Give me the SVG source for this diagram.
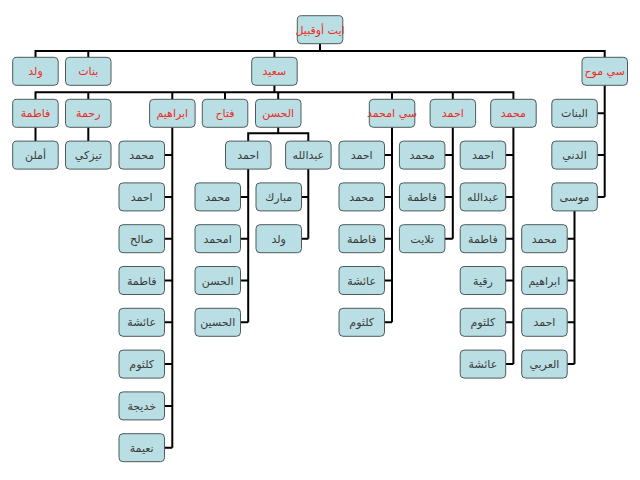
<svg xmlns="http://www.w3.org/2000/svg" width="640" height="480" viewBox="0 0 640 480">
<style>
rect{fill:#b9dfe4;stroke:#4d5a5c;stroke-width:1}
text{font-family:"DejaVu Sans","Liberation Sans",sans-serif;font-size:11px;text-anchor:middle}
.r{fill:#ec2a1c}
.k{fill:#3a3a3a}
#connectors path{fill:none;stroke:#000;stroke-width:2}
</style>
<rect x="0" y="0" width="640" height="480" style="fill:#fff;stroke:none"/>
<g id="connectors">
<path d="M35.5,57.3 V51 H604.7 V57.3 M88.3,51 V57.3 M274.4,51 V57.3 M320,43.7 V51"/>
<path d="M274.4,85.3 V92.3 M35.5,99.3 V92.3 H513.4 V99.3 M88.3,92.3 V99.3 M172.3,92.3 V99.3 M225,92.3 V99.3 M278.2,92.3 V99.3 M392,92.3 V99.3 M452.8,92.3 V99.3"/>
<path d="M35.5,127.3 V141.1 M88.3,127.3 V141.1"/>
<path d="M172.3,127.3 V447.7 M164.5,155.1 H172.3 M164.5,196.9 H172.3 M164.5,238.7 H172.3 M164.5,280.5 H172.3 M164.5,322.3 H172.3 M164.5,364.1 H172.3 M164.5,405.9 H172.3 M164.5,447.7 H172.3"/>
<path d="M278.2,127.3 V133.3 M248.2,141.1 V133.3 H308.3 V141.1"/>
<path d="M248.2,169.1 V322.3 M240.5,196.9 H248.2 M240.5,238.7 H248.2 M240.5,280.5 H248.2 M240.5,322.3 H248.2"/>
<path d="M308.3,169.1 V238.7 M301.5,196.9 H308.3 M301.5,238.7 H308.3"/>
<path d="M392,127.3 V322.3 M384.5,155.1 H392 M384.5,196.9 H392 M384.5,238.7 H392 M384.5,280.5 H392 M384.5,322.3 H392"/>
<path d="M452.8,127.3 V238.7 M445,155.1 H452.8 M445,196.9 H452.8 M445,238.7 H452.8"/>
<path d="M513.4,127.3 V364.1 M505.7,155.1 H513.4 M505.7,196.9 H513.4 M505.7,238.7 H513.4 M505.7,280.5 H513.4 M505.7,322.3 H513.4 M505.7,364.1 H513.4"/>
<path d="M604.7,85.3 V196.9 M597.3,113.3 H604.7 M597.3,155.1 H604.7 M597.3,196.9 H604.7"/>
<path d="M574.5,210.9 V364.1 M567.2,238.7 H574.5 M567.2,280.5 H574.5 M567.2,322.3 H574.5 M567.2,364.1 H574.5"/>
</g>
<g id="root"><rect x="297.3" y="15.7" width="45.5" height="28" rx="4"/><text class="r" x="320" y="33.7">ايت أوقبيل</text></g>
<g id="n_wald1"><rect x="12.7" y="57.3" width="45.5" height="28" rx="4"/><text class="r" x="35.5" y="75.3">ولد</text></g>
<g id="n_banat"><rect x="65.5" y="57.3" width="45.5" height="28" rx="4"/><text class="r" x="88.3" y="75.3">بنات</text></g>
<g id="n_said"><rect x="251.7" y="57.3" width="45.5" height="28" rx="4"/><text class="r" x="274.4" y="75.3">سعيد</text></g>
<g id="n_simoh"><rect x="582" y="57.3" width="45.5" height="28" rx="4"/><text class="r" x="604.7" y="75.3">سي موح</text></g>
<g id="n_fatima1"><rect x="12.7" y="99.3" width="45.5" height="28" rx="4"/><text class="r" x="35.5" y="117.3">فاطمة</text></g>
<g id="n_rahma"><rect x="65.5" y="99.3" width="45.5" height="28" rx="4"/><text class="r" x="88.3" y="117.3">رحمة</text></g>
<g id="n_ibrahim"><rect x="149.6" y="99.3" width="45.5" height="28" rx="4"/><text class="r" x="172.3" y="117.3">ابراهيم</text></g>
<g id="n_fettah"><rect x="202.3" y="99.3" width="45.5" height="28" rx="4"/><text class="r" x="225" y="117.3">فتاح</text></g>
<g id="n_hasan"><rect x="255.5" y="99.3" width="45.5" height="28" rx="4"/><text class="r" x="278.2" y="117.3">الحسن</text></g>
<g id="n_simhamed"><rect x="369.3" y="99.3" width="45.5" height="28" rx="4"/><text class="r" x="392" y="117.3">سي امحمد</text></g>
<g id="n_ahmed2"><rect x="430.1" y="99.3" width="45.5" height="28" rx="4"/><text class="r" x="452.8" y="117.3">احمد</text></g>
<g id="n_mohamed2"><rect x="490.7" y="99.3" width="45.5" height="28" rx="4"/><text class="r" x="513.4" y="117.3">محمد</text></g>
<g id="n_albanat"><rect x="551.8" y="99.3" width="45.5" height="28" rx="4"/><text class="k" x="574.5" y="117.3">البنات</text></g>
<g id="n_amlan"><rect x="12.7" y="141.1" width="45.5" height="28" rx="4"/><text class="k" x="35.5" y="159.1">أملن</text></g>
<g id="n_tizki"><rect x="65.5" y="141.1" width="45.5" height="28" rx="4"/><text class="k" x="88.3" y="159.1">تيزكي</text></g>
<g id="n_i1"><rect x="119" y="141.1" width="45.5" height="28" rx="4"/><text class="k" x="141.7" y="159.1">محمد</text></g>
<g id="n_i2"><rect x="119" y="182.9" width="45.5" height="28" rx="4"/><text class="k" x="141.7" y="200.9">احمد</text></g>
<g id="n_i3"><rect x="119" y="224.7" width="45.5" height="28" rx="4"/><text class="k" x="141.7" y="242.7">صالح</text></g>
<g id="n_i4"><rect x="119" y="266.5" width="45.5" height="28" rx="4"/><text class="k" x="141.7" y="284.5">فاطمة</text></g>
<g id="n_i5"><rect x="119" y="308.3" width="45.5" height="28" rx="4"/><text class="k" x="141.7" y="326.3">عائشة</text></g>
<g id="n_i6"><rect x="119" y="350.1" width="45.5" height="28" rx="4"/><text class="k" x="141.7" y="368.1">كلثوم</text></g>
<g id="n_i7"><rect x="119" y="391.9" width="45.5" height="28" rx="4"/><text class="k" x="141.7" y="409.9">خديجة</text></g>
<g id="n_i8"><rect x="119" y="433.7" width="45.5" height="28" rx="4"/><text class="k" x="141.7" y="451.7">نعيمة</text></g>
<g id="n_h_ahmed"><rect x="225.5" y="141.1" width="45.5" height="28" rx="4"/><text class="k" x="248.2" y="159.1">احمد</text></g>
<g id="n_h_abdallah"><rect x="285.6" y="141.1" width="45.5" height="28" rx="4"/><text class="k" x="308.3" y="159.1">عبدالله</text></g>
<g id="n_ha1"><rect x="195" y="182.9" width="45.5" height="28" rx="4"/><text class="k" x="217.7" y="200.9">محمد</text></g>
<g id="n_ha2"><rect x="195" y="224.7" width="45.5" height="28" rx="4"/><text class="k" x="217.7" y="242.7">امحمد</text></g>
<g id="n_ha3"><rect x="195" y="266.5" width="45.5" height="28" rx="4"/><text class="k" x="217.7" y="284.5">الحسن</text></g>
<g id="n_ha4"><rect x="195" y="308.3" width="45.5" height="28" rx="4"/><text class="k" x="217.7" y="326.3">الحسين</text></g>
<g id="n_hb1"><rect x="256" y="182.9" width="45.5" height="28" rx="4"/><text class="k" x="278.7" y="200.9">مبارك</text></g>
<g id="n_hb2"><rect x="256" y="224.7" width="45.5" height="28" rx="4"/><text class="k" x="278.7" y="242.7">ولد</text></g>
<g id="n_s1"><rect x="339" y="141.1" width="45.5" height="28" rx="4"/><text class="k" x="361.7" y="159.1">احمد</text></g>
<g id="n_s2"><rect x="339" y="182.9" width="45.5" height="28" rx="4"/><text class="k" x="361.7" y="200.9">محمد</text></g>
<g id="n_s3"><rect x="339" y="224.7" width="45.5" height="28" rx="4"/><text class="k" x="361.7" y="242.7">فاطمة</text></g>
<g id="n_s4"><rect x="339" y="266.5" width="45.5" height="28" rx="4"/><text class="k" x="361.7" y="284.5">عائشة</text></g>
<g id="n_s5"><rect x="339" y="308.3" width="45.5" height="28" rx="4"/><text class="k" x="361.7" y="326.3">كلثوم</text></g>
<g id="n_a1"><rect x="399.4" y="141.1" width="45.5" height="28" rx="4"/><text class="k" x="422.1" y="159.1">محمد</text></g>
<g id="n_a2"><rect x="399.4" y="182.9" width="45.5" height="28" rx="4"/><text class="k" x="422.1" y="200.9">فاطمة</text></g>
<g id="n_a3"><rect x="399.4" y="224.7" width="45.5" height="28" rx="4"/><text class="k" x="422.1" y="242.7">تلايت</text></g>
<g id="n_m1"><rect x="460.2" y="141.1" width="45.5" height="28" rx="4"/><text class="k" x="482.9" y="159.1">احمد</text></g>
<g id="n_m2"><rect x="460.2" y="182.9" width="45.5" height="28" rx="4"/><text class="k" x="482.9" y="200.9">عبدالله</text></g>
<g id="n_m3"><rect x="460.2" y="224.7" width="45.5" height="28" rx="4"/><text class="k" x="482.9" y="242.7">فاطمة</text></g>
<g id="n_m4"><rect x="460.2" y="266.5" width="45.5" height="28" rx="4"/><text class="k" x="482.9" y="284.5">رقية</text></g>
<g id="n_m5"><rect x="460.2" y="308.3" width="45.5" height="28" rx="4"/><text class="k" x="482.9" y="326.3">كلثوم</text></g>
<g id="n_m6"><rect x="460.2" y="350.1" width="45.5" height="28" rx="4"/><text class="k" x="482.9" y="368.1">عائشة</text></g>
<g id="n_dni"><rect x="551.8" y="141.1" width="45.5" height="28" rx="4"/><text class="k" x="574.5" y="159.1">الدني</text></g>
<g id="n_moussa"><rect x="551.8" y="182.9" width="45.5" height="28" rx="4"/><text class="k" x="574.5" y="200.9">موسى</text></g>
<g id="n_mo1"><rect x="521.7" y="224.7" width="45.5" height="28" rx="4"/><text class="k" x="544.4" y="242.7">محمد</text></g>
<g id="n_mo2"><rect x="521.7" y="266.5" width="45.5" height="28" rx="4"/><text class="k" x="544.4" y="284.5">ابراهيم</text></g>
<g id="n_mo3"><rect x="521.7" y="308.3" width="45.5" height="28" rx="4"/><text class="k" x="544.4" y="326.3">احمد</text></g>
<g id="n_mo4"><rect x="521.7" y="350.1" width="45.5" height="28" rx="4"/><text class="k" x="544.4" y="368.1">العربي</text></g>
</svg>
